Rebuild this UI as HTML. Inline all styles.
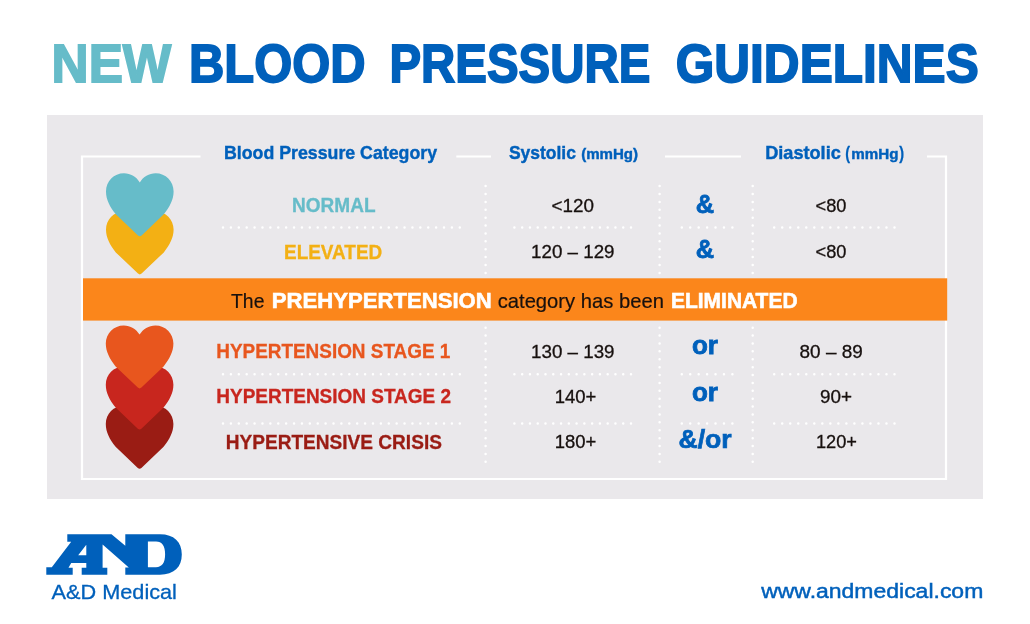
<!DOCTYPE html>
<html lang="en"><head><meta charset="utf-8"><title>New Blood Pressure Guidelines</title>
<style>html,body{margin:0;padding:0;background:#fff}body{width:1030px;height:624px;overflow:hidden}svg{display:block}text{font-family:"Liberation Sans",sans-serif;white-space:pre}</style></head><body>
<svg width="1030" height="624" viewBox="0 0 1030 624">
<rect width="1030" height="624" fill="#fff"/>
<rect x="47" y="115" width="936" height="384" fill="#eae8eb"/>
<g fill="none" stroke="#fff" stroke-width="2.2">
<path d="M200.5 156.5H82V479H946V156.5H927"/>
<path d="M456.3 156.5H491M665 156.5H741"/>
</g>
<g fill="none" stroke="#fff" stroke-width="2.5" stroke-linecap="round">
<path d="M223 227.4L459.81 227.40" stroke-dasharray="0 7.8933"/>
<path d="M514.4 227.4L631.01 227.40" stroke-dasharray="0 7.7733"/>
<path d="M681.8 227.4L732.41 227.40" stroke-dasharray="0 8.4333"/>
<path d="M774.2 227.4L894.51 227.40" stroke-dasharray="0 8.0200"/>
<path d="M223 374.3L459.81 374.30" stroke-dasharray="0 7.8933"/>
<path d="M514.4 374.3L631.01 374.30" stroke-dasharray="0 7.7733"/>
<path d="M681.8 374.3L732.41 374.30" stroke-dasharray="0 8.4333"/>
<path d="M774.2 374.3L894.51 374.30" stroke-dasharray="0 8.0200"/>
<path d="M223 423.4L459.81 423.40" stroke-dasharray="0 7.8933"/>
<path d="M514.4 423.4L631.01 423.40" stroke-dasharray="0 7.7733"/>
<path d="M681.8 423.4L732.41 423.40" stroke-dasharray="0 8.4333"/>
<path d="M774.2 423.4L894.51 423.40" stroke-dasharray="0 8.0200"/>
<path d="M485.6 186.1L485.60 272.91" stroke-dasharray="0 7.8909"/>
<path d="M485.6 327.7L485.60 461.81" stroke-dasharray="0 7.8882"/>
<path d="M659.6 186.1L659.60 272.91" stroke-dasharray="0 7.8909"/>
<path d="M659.6 327.7L659.60 461.81" stroke-dasharray="0 7.8882"/>
<path d="M752.7 186.1L752.70 272.91" stroke-dasharray="0 7.8909"/>
<path d="M752.7 327.7L752.70 461.81" stroke-dasharray="0 7.8882"/>
</g>
<path transform="translate(105.8 211.2)" d="M34 9.4C30.6 3.7 24.8 0.2 18.2 0.2C8.1 0.2 0.2 8.2 0.2 18.4C0.2 26.6 4 33.6 10 41.2L32.2 62.4Q34 64 35.8 62.4L58 41.2C64 33.6 67.8 26.6 67.8 18.4C67.8 8.2 59.9 0.2 49.8 0.2C43.2 0.2 37.4 3.7 34 9.4Z" fill="#f3b014"/>
<path transform="translate(105.8 173.1)" d="M34 9.4C30.6 3.7 24.8 0.2 18.2 0.2C8.1 0.2 0.2 8.2 0.2 18.4C0.2 26.6 4 33.6 10 41.2L32.2 62.4Q34 64 35.8 62.4L58 41.2C64 33.6 67.8 26.6 67.8 18.4C67.8 8.2 59.9 0.2 49.8 0.2C43.2 0.2 37.4 3.7 34 9.4Z" fill="#66bcc9"/>
<path transform="translate(105.6 405.6)" d="M34 9.4C30.6 3.7 24.8 0.2 18.2 0.2C8.1 0.2 0.2 8.2 0.2 18.4C0.2 26.6 4 33.6 10 41.2L32.2 62.4Q34 64 35.8 62.4L58 41.2C64 33.6 67.8 26.6 67.8 18.4C67.8 8.2 59.9 0.2 49.8 0.2C43.2 0.2 37.4 3.7 34 9.4Z" fill="#9a1c14"/>
<path transform="translate(105.6 366.3)" d="M34 9.4C30.6 3.7 24.8 0.2 18.2 0.2C8.1 0.2 0.2 8.2 0.2 18.4C0.2 26.6 4 33.6 10 41.2L32.2 62.4Q34 64 35.8 62.4L58 41.2C64 33.6 67.8 26.6 67.8 18.4C67.8 8.2 59.9 0.2 49.8 0.2C43.2 0.2 37.4 3.7 34 9.4Z" fill="#c8261e"/>
<path transform="translate(105.6 325.2)" d="M34 9.4C30.6 3.7 24.8 0.2 18.2 0.2C8.1 0.2 0.2 8.2 0.2 18.4C0.2 26.6 4 33.6 10 41.2L32.2 62.4Q34 64 35.8 62.4L58 41.2C64 33.6 67.8 26.6 67.8 18.4C67.8 8.2 59.9 0.2 49.8 0.2C43.2 0.2 37.4 3.7 34 9.4Z" fill="#e8561e"/>
<rect x="83" y="278.3" width="864.2" height="42.3" fill="#fb861b"/>
<g id="logo" role="img" aria-label="AND logo" fill="#0060bb"><title>AND</title>
<path fill-rule="evenodd" d="M67.3 534.3H111.5L125.3 545.8V534.3H160C174 534.3 181.8 542 181.8 554.5C181.8 567 174 574.7 160 574.7H125.3V567.6H128.8L102.6 544.6V567.7H107.3V574.7H81.7V567.7H86.3V563H71.2L68.5 567.7H72.7V574.7H46.3V567.3H51.8L71.2 541.7H67.3ZM86.3 544.8L78.2 555.2H86.3ZM147.9 541.4V567.2H156C162 567.2 165.1 563 165.1 554.3C165.1 545.6 162 541.4 156 541.4Z"/>
</g>
<text id="t1" x="51.60" y="81.90" font-size="54.50" font-weight="700" fill="#66bcc9" stroke="#66bcc9" stroke-width="1.8" stroke-linejoin="miter" textLength="119.70" lengthAdjust="spacingAndGlyphs">NEW</text>
<text id="t2" x="189.05" y="81.90" font-size="54.50" font-weight="700" fill="#0060bb" stroke="#0060bb" stroke-width="1.8" stroke-linejoin="miter" textLength="176.55" lengthAdjust="spacingAndGlyphs">BLOOD</text>
<text id="t3" x="389.50" y="81.90" font-size="54.50" font-weight="700" fill="#0060bb" stroke="#0060bb" stroke-width="1.8" stroke-linejoin="miter" textLength="260.85" lengthAdjust="spacingAndGlyphs">PRESSURE</text>
<text id="t4" x="675.75" y="81.90" font-size="54.50" font-weight="700" fill="#0060bb" stroke="#0060bb" stroke-width="1.8" stroke-linejoin="miter" textLength="302.95" lengthAdjust="spacingAndGlyphs">GUIDELINES</text>
<text id="h1" x="224.00" y="159.30" font-size="18.20" font-weight="700" fill="#0060bb" stroke="#0060bb" stroke-width="0.4" stroke-linejoin="miter" textLength="213.00" lengthAdjust="spacingAndGlyphs">Blood Pressure Category</text>
<text id="h2a" x="508.90" y="159.20" font-size="18.20" font-weight="700" fill="#0060bb" stroke="#0060bb" stroke-width="0.4" stroke-linejoin="miter" textLength="67.00" lengthAdjust="spacingAndGlyphs">Systolic</text>
<text id="h2b" x="581.15" y="159.00" font-size="14.50" font-weight="700" fill="#0060bb" stroke="#0060bb" stroke-width="0.4" stroke-linejoin="miter" textLength="56.90" lengthAdjust="spacingAndGlyphs">(mmHg)</text>
<text id="h3a" x="765.15" y="159.20" font-size="18.20" font-weight="700" fill="#0060bb" stroke="#0060bb" stroke-width="0.4" stroke-linejoin="miter" textLength="75.65" lengthAdjust="spacingAndGlyphs">Diastolic</text>
<text id="h3b" x="845.30" y="159.25" font-size="18.60" font-weight="700" fill="#0060bb" stroke="#0060bb" stroke-width="0.3" stroke-linejoin="miter" textLength="4.80" lengthAdjust="spacingAndGlyphs">(</text>
<text id="h3c" x="851.25" y="159.00" font-size="14.50" font-weight="700" fill="#0060bb" stroke="#0060bb" stroke-width="0.4" stroke-linejoin="miter" textLength="47.20" lengthAdjust="spacingAndGlyphs">mmHg</text>
<text id="h3d" x="899.20" y="159.25" font-size="18.60" font-weight="700" fill="#0060bb" stroke="#0060bb" stroke-width="0.3" stroke-linejoin="miter" textLength="4.85" lengthAdjust="spacingAndGlyphs">)</text>
<text id="c1" x="292.10" y="211.85" font-size="19.40" font-weight="700" fill="#66bcc9" stroke="#66bcc9" stroke-width="0.3" stroke-linejoin="miter" textLength="83.40" lengthAdjust="spacingAndGlyphs">NORMAL</text>
<text id="c2" x="284.00" y="259.05" font-size="19.40" font-weight="700" fill="#f3b014" stroke="#f3b014" stroke-width="0.3" stroke-linejoin="miter" textLength="98.20" lengthAdjust="spacingAndGlyphs">ELEVATED</text>
<text id="c3" x="216.30" y="358.35" font-size="19.40" font-weight="700" fill="#e8561e" stroke="#e8561e" stroke-width="0.3" stroke-linejoin="miter" textLength="234.00" lengthAdjust="spacingAndGlyphs">HYPERTENSION STAGE 1</text>
<text id="c4" x="216.30" y="403.45" font-size="19.40" font-weight="700" fill="#c8261e" stroke="#c8261e" stroke-width="0.3" stroke-linejoin="miter" textLength="234.70" lengthAdjust="spacingAndGlyphs">HYPERTENSION STAGE 2</text>
<text id="c5" x="225.75" y="449.15" font-size="19.40" font-weight="700" fill="#9a1c14" stroke="#9a1c14" stroke-width="0.3" stroke-linejoin="miter" textLength="216.15" lengthAdjust="spacingAndGlyphs">HYPERTENSIVE CRISIS</text>
<text id="s1" x="551.60" y="211.65" font-size="18.30" font-weight="400" fill="#17100e" stroke="#17100e" stroke-width="0.3" stroke-linejoin="miter" textLength="42.45" lengthAdjust="spacingAndGlyphs">&lt;120</text>
<text id="s2" x="531.10" y="258.35" font-size="18.30" font-weight="400" fill="#17100e" stroke="#17100e" stroke-width="0.3" stroke-linejoin="miter" textLength="83.45" lengthAdjust="spacingAndGlyphs">120 – 129</text>
<text id="s3" x="531.10" y="357.85" font-size="18.30" font-weight="400" fill="#17100e" stroke="#17100e" stroke-width="0.3" stroke-linejoin="miter" textLength="83.45" lengthAdjust="spacingAndGlyphs">130 – 139</text>
<text id="s4" x="554.70" y="403.15" font-size="18.30" font-weight="400" fill="#17100e" stroke="#17100e" stroke-width="0.3" stroke-linejoin="miter" textLength="41.55" lengthAdjust="spacingAndGlyphs">140+</text>
<text id="s5" x="554.70" y="448.15" font-size="18.30" font-weight="400" fill="#17100e" stroke="#17100e" stroke-width="0.3" stroke-linejoin="miter" textLength="41.55" lengthAdjust="spacingAndGlyphs">180+</text>
<text id="a1" x="695.80" y="212.50" font-size="26.40" font-weight="700" fill="#0060bb" stroke="#0060bb" stroke-width="0.8" stroke-linejoin="miter" textLength="18.35" lengthAdjust="spacingAndGlyphs">&amp;</text>
<text id="a2" x="695.80" y="257.70" font-size="26.40" font-weight="700" fill="#0060bb" stroke="#0060bb" stroke-width="0.8" stroke-linejoin="miter" textLength="18.35" lengthAdjust="spacingAndGlyphs">&amp;</text>
<text id="a3" x="692.00" y="353.80" font-size="25.40" font-weight="700" fill="#0060bb" stroke="#0060bb" stroke-width="0.8" stroke-linejoin="miter" textLength="26.00" lengthAdjust="spacingAndGlyphs">or</text>
<text id="a4" x="692.00" y="400.80" font-size="25.40" font-weight="700" fill="#0060bb" stroke="#0060bb" stroke-width="0.8" stroke-linejoin="miter" textLength="26.00" lengthAdjust="spacingAndGlyphs">or</text>
<text id="a5" x="678.55" y="447.85" font-size="25.00" font-weight="700" fill="#0060bb" stroke="#0060bb" stroke-width="0.7" stroke-linejoin="miter" textLength="53.15" lengthAdjust="spacingAndGlyphs">&amp;/or</text>
<text id="d1" x="815.60" y="211.65" font-size="18.30" font-weight="400" fill="#17100e" stroke="#17100e" stroke-width="0.3" stroke-linejoin="miter" textLength="30.90" lengthAdjust="spacingAndGlyphs">&lt;80</text>
<text id="d2" x="815.60" y="258.35" font-size="18.30" font-weight="400" fill="#17100e" stroke="#17100e" stroke-width="0.3" stroke-linejoin="miter" textLength="30.90" lengthAdjust="spacingAndGlyphs">&lt;80</text>
<text id="d3" x="799.60" y="357.85" font-size="18.30" font-weight="400" fill="#17100e" stroke="#17100e" stroke-width="0.3" stroke-linejoin="miter" textLength="63.15" lengthAdjust="spacingAndGlyphs">80 – 89</text>
<text id="d4" x="820.10" y="403.15" font-size="18.30" font-weight="400" fill="#17100e" stroke="#17100e" stroke-width="0.3" stroke-linejoin="miter" textLength="32.00" lengthAdjust="spacingAndGlyphs">90+</text>
<text id="d5" x="815.90" y="448.15" font-size="18.30" font-weight="400" fill="#17100e" stroke="#17100e" stroke-width="0.3" stroke-linejoin="miter" textLength="41.05" lengthAdjust="spacingAndGlyphs">120+</text>
<text id="b1" x="231.05" y="307.90" font-size="21.00" font-weight="400" fill="#17100e" stroke="#17100e" stroke-width="0.2" stroke-linejoin="miter" textLength="33.35" lengthAdjust="spacingAndGlyphs">The</text>
<text id="b2" x="271.75" y="307.70" font-size="21.80" font-weight="700" fill="#ffffff" stroke="#ffffff" stroke-width="0.6" stroke-linejoin="miter" textLength="220.00" lengthAdjust="spacingAndGlyphs">PREHYPERTENSION</text>
<text id="b3" x="497.70" y="307.90" font-size="21.00" font-weight="400" fill="#17100e" stroke="#17100e" stroke-width="0.2" stroke-linejoin="miter" textLength="166.20" lengthAdjust="spacingAndGlyphs">category has been</text>
<text id="b4" x="671.00" y="307.70" font-size="21.80" font-weight="700" fill="#ffffff" stroke="#ffffff" stroke-width="0.6" stroke-linejoin="miter" textLength="126.55" lengthAdjust="spacingAndGlyphs">ELIMINATED</text>
<text id="f1" x="51.55" y="598.55" font-size="20.30" font-weight="400" fill="#0060bb" stroke="#0060bb" stroke-width="0.3" stroke-linejoin="miter" textLength="125.40" lengthAdjust="spacingAndGlyphs">A&amp;D Medical</text>
<text id="f2" x="761.15" y="598.17" font-size="20.00" font-weight="400" fill="#0060bb" stroke="#0060bb" stroke-width="0.45" stroke-linejoin="miter" textLength="222.15" lengthAdjust="spacingAndGlyphs">www.andmedical.com</text>
</svg></body></html>
